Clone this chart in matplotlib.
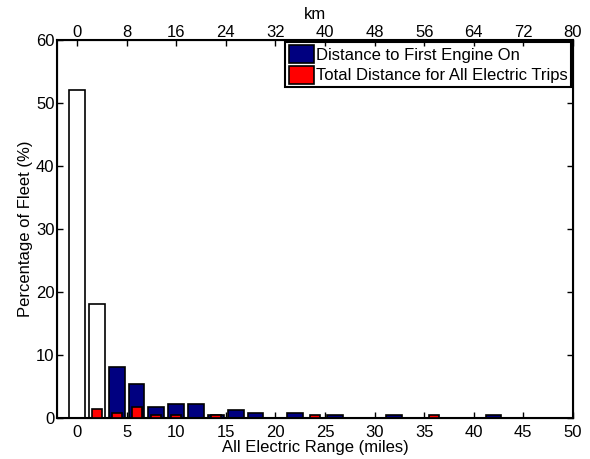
import matplotlib
matplotlib.use("Agg")
import matplotlib.pyplot as plt
from matplotlib.patches import Patch

plt.rcParams["font.family"] = ["Liberation Sans", "DejaVu Sans"]
plt.rcParams["font.size"] = 12

# range bins (miles) and percentage of fleet
white_miles = [0, 2]
white_pct = [52, 18]

blue_miles = [4, 6, 8, 10, 12, 14, 16, 18, 22, 26, 32, 42]
blue_pct = [8.0, 5.3, 1.7, 2.1, 2.1, 0.4, 1.3, 0.8, 0.8, 0.4, 0.4, 0.4]

red_miles = [2, 4, 6, 8, 10, 14, 24, 36]
red_pct = [1.4, 0.8, 1.65, 0.4, 0.35, 0.35, 0.35, 0.35]

x_ticks = [0, 5, 10, 15, 20, 25, 30, 35, 40, 45, 50]
km_ticks = [0, 8, 16, 24, 32, 40, 48, 56, 64, 72, 80]
y_ticks = [0, 10, 20, 30, 40, 50, 60]

blue = "#000080"
red = "#ff0000"

fig = plt.figure(figsize=(5.9, 4.59), dpi=100)
ax = fig.add_axes([0.097, 0.090, 0.874, 0.823])

ax.bar(blue_miles, blue_pct, width=1.6, color=blue, edgecolor="black", linewidth=1.2, zorder=2)
ax.bar(white_miles, white_pct, width=1.6, color="white", edgecolor="black", linewidth=1.2, zorder=2)
ax.bar(red_miles, red_pct, width=1.0, color=red, edgecolor="black", linewidth=1.2, zorder=3)

ax.set_xlim(-2, 50)
ax.set_ylim(0, 60)
ax.set_xticks(x_ticks)
ax.set_yticks(y_ticks)
ax.tick_params(direction="in", length=4, width=1, top=False, right=True, labelsize=12, pad=2)
ax.tick_params(axis="x", pad=5)
ax.set_xlabel("All Electric Range (miles)", labelpad=0)
ax.set_ylabel("Percentage of Fleet (%)", labelpad=2)
for s in ax.spines.values():
    s.set_linewidth(1.5)

ax2 = ax.twiny()
ax2.set_xlim(-2 * 1.6, 50 * 1.6)
ax2.set_xticks(km_ticks)
ax2.tick_params(direction="in", length=4, width=1, labelsize=12, pad=0)
ax2.set_xlabel("km", labelpad=4)

handles = [
    Patch(facecolor=blue, edgecolor="black", linewidth=1.2),
    Patch(facecolor=red, edgecolor="black", linewidth=1.2),
]
leg = ax.legend(handles, ["Distance to First Engine On", "Total Distance for All Electric Trips"],
                loc="upper right", bbox_to_anchor=(1.0, 1.0), fancybox=False, framealpha=1,
                borderpad=0.2, handlelength=1.5, handleheight=1.3, handletextpad=0.15,
                labelspacing=0.15, borderaxespad=0.1, fontsize=12)
leg.get_frame().set_edgecolor("black")
leg.get_frame().set_linewidth(1.5)

fig.savefig("out.png", dpi=100)
